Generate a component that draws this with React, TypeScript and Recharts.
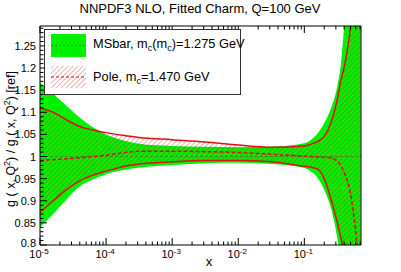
import React from 'react';
import { ComposedChart, Area, Line, XAxis, YAxis, ReferenceLine } from 'recharts';

// x samples (log spaced by hand) and ratios
const xValues = [
  1e-5, 1.585e-5, 2.512e-5, 3.981e-5, 6.31e-5, 1e-4, 1.778e-4, 3.162e-4, 1e-3, 3.162e-3,
  1e-2, 3.162e-2, 0.1, 0.1259, 0.1585, 0.1995, 0.2512, 0.3162, 0.3548, 0.3981,
  0.4467, 0.5012, 0.5623, 0.631, 0.711,
];
const msbarUpper = [
  1.167, 1.142, 1.115, 1.088, 1.066, 1.05, 1.037, 1.029, 1.024, 1.022,
  1.021, 1.022, 1.03, 1.038, 1.052, 1.075, 1.108, 1.16, 1.205, 1.29,
  1.4, 1.52, 1.65, 1.8, 2.0,
];
const msbarLower = [
  0.84, 0.87, 0.903, 0.932, 0.948, 0.96, 0.969, 0.975, 0.981, 0.985,
  0.986, 0.983, 0.974, 0.966, 0.952, 0.925, 0.885, 0.815, 0.76, 0.7,
  0.65, 0.6, 0.55, 0.5, 0.45,
];
const poleUpper = [
  1.11, 1.1, 1.083, 1.068, 1.06, 1.054, 1.048, 1.043, 1.038, 1.033,
  1.026, 1.021, 1.024, 1.028, 1.034, 1.045, 1.075, 1.13, 1.17, 1.2,
  1.24, 1.295, 1.4, 1.5, 1.6,
];
const poleLower = [
  0.874, 0.9, 0.925, 0.945, 0.958, 0.967, 0.977, 0.983, 0.988, 0.991,
  0.991, 0.988, 0.978, 0.976, 0.972, 0.95, 0.905, 0.85, 0.818, 0.785,
  0.75, 0.71, 0.67, 0.63, 0.58,
];
const poleCentral = [
  0.991, 0.993, 0.995, 0.997, 1.0, 1.003, 1.008, 1.012, 1.012, 1.011,
  1.009, 1.005, 1.001, 1.0, 0.999, 0.998, 0.997, 0.989, 0.98, 0.965,
  0.945, 0.915, 0.865, 0.8, 0.72,
];

const xMajorTicks = [1e-5, 1e-4, 1e-3, 1e-2, 1e-1];
const xMajorExps = ['-5', '-4', '-3', '-2', '-1'];
const xMinorMult = [2, 3, 4, 5, 6, 7, 8, 9];
const xMinorTicks = xMajorTicks
  .flatMap((d) => xMinorMult.map((m) => d * m))
  .filter((v) => v < 0.72);
const xTicks = [...xMajorTicks, ...xMinorTicks];

const yMajorTicks = [0.8, 0.85, 0.9, 0.95, 1, 1.05, 1.1, 1.15, 1.2, 1.25];
const yMajorLabels = ['0.8', '0.85', '0.9', '0.95', '1', '1.05', '1.1', '1.15', '1.2', '1.25'];
const yMinorTicks = Array.from({ length: 49 }, (_, i) => Math.round(81 + i) / 100).filter(
  (v) => Math.round(v * 100) % 5 !== 0
);
const yTicks = [...yMajorTicks, ...yMinorTicks];

const chartData = xValues.map((x, i) => ({
  x,
  msbar: [msbarLower[i], msbarUpper[i]],
  pole: [poleLower[i], poleUpper[i]],
  poleUp: poleUpper[i],
  poleLo: poleLower[i],
  poleMid: poleCentral[i],
}));

const FONT = 'Liberation Sans, Arial, Helvetica, sans-serif';
const GREEN = '#00f000';
const RED = '#e01010';

function BottomTick({ x, y, payload }: any) {
  const i = xMajorTicks.indexOf(payload.value);
  if (i < 0) return <line x1={x} x2={x} y1={y} y2={y - 3.5} stroke="#000" />;
  return (
    <g>
      <line x1={x} x2={x} y1={y} y2={y - 7} stroke="#000" />
      <text x={x - 1} y={y + 13} textAnchor="middle" fontSize={11} fontFamily={FONT} fill="#000">
        10
        <tspan dy={-4} fontSize={8}>
          {xMajorExps[i]}
        </tspan>
      </text>
    </g>
  );
}

function TopTick({ x, y, payload }: any) {
  const major = xMajorTicks.includes(payload.value);
  return <line x1={x} x2={x} y1={y} y2={y + (major ? 7 : 3.5)} stroke="#000" />;
}

function LeftTick({ x, y, payload }: any) {
  const i = yMajorTicks.indexOf(payload.value);
  if (i < 0) return <line x1={x} x2={x + 3.5} y1={y} y2={y} stroke="#000" />;
  // lowest label sits a touch higher so it clears the 10^-5 label
  const dy = i === 0 ? 2 : 4;
  return (
    <g>
      <line x1={x} x2={x + 7} y1={y} y2={y} stroke="#000" />
      <text x={x - 4} y={y + dy} textAnchor="end" fontSize={11} fontFamily={FONT} fill="#000">
        {yMajorLabels[i]}
      </text>
    </g>
  );
}

export default function App() {
  return (
    <div style={{ position: 'absolute', left: 0, top: 0, width: 401, height: 272, background: '#fff' }}>
      <svg width={0} height={0} style={{ position: 'absolute' }}>
        <defs>
          <pattern id="poleHatch" patternUnits="userSpaceOnUse" width={3.5} height={3.5} patternTransform="rotate(45)">
            <line x1={0} y1={0} x2={0} y2={3.5} stroke="#d42020" strokeWidth={1.3} strokeOpacity={0.5} />
          </pattern>
        </defs>
      </svg>
      <ComposedChart width={401} height={272} data={chartData} margin={{ top: 0, right: 0, bottom: 0, left: 0 }}>
        <XAxis
          xAxisId="x"
          dataKey="x"
          type="number"
          scale="log"
          domain={[1e-5, 0.72]}
          allowDataOverflow
          ticks={xTicks}
          interval={0}
          tick={<BottomTick />}
          tickLine={false}
          tickSize={0}
          tickMargin={0}
          height={27}
          axisLine={{ stroke: '#000' }}
        />
        <XAxis
          xAxisId="top"
          orientation="top"
          dataKey="x"
          type="number"
          scale="log"
          domain={[1e-5, 0.72]}
          allowDataOverflow
          ticks={xTicks}
          interval={0}
          tick={<TopTick />}
          tickLine={false}
          tickSize={0}
          tickMargin={0}
          height={26}
          axisLine={{ stroke: '#000' }}
        />
        <YAxis
          yAxisId="y"
          type="number"
          domain={[0.8, 1.295]}
          allowDataOverflow
          ticks={yTicks}
          interval={0}
          tick={<LeftTick />}
          tickLine={false}
          tickSize={0}
          tickMargin={0}
          width={40}
          axisLine={{ stroke: '#000' }}
        />
        <YAxis
          yAxisId="r"
          orientation="right"
          type="number"
          domain={[0.8, 1.295]}
          allowDataOverflow
          tick={false}
          tickLine={false}
          width={40}
          axisLine={{ stroke: '#000' }}
        />
        <Area
          xAxisId="x"
          yAxisId="y"
          type="monotone"
          dataKey="msbar"
          fill={GREEN}
          fillOpacity={1}
          stroke="none"
          isAnimationActive={false}
        />
        <Area
          xAxisId="x"
          yAxisId="y"
          type="monotone"
          dataKey="pole"
          fill="url(#poleHatch)"
          fillOpacity={1}
          stroke="none"
          isAnimationActive={false}
        />
        <ReferenceLine xAxisId="x" yAxisId="y" y={1} stroke="#3b8a2a" strokeDasharray="3 2" />
        <Line xAxisId="x" yAxisId="y" type="monotone" dataKey="poleUp" stroke={RED} strokeWidth={1.5} dot={false} activeDot={false} isAnimationActive={false} />
        <Line xAxisId="x" yAxisId="y" type="monotone" dataKey="poleLo" stroke={RED} strokeWidth={1.5} dot={false} activeDot={false} isAnimationActive={false} />
        <Line xAxisId="x" yAxisId="y" type="monotone" dataKey="poleMid" stroke={RED} strokeWidth={1.5} strokeDasharray="4 2" dot={false} activeDot={false} isAnimationActive={false} />
      </ComposedChart>
      <svg width={401} height={272} style={{ position: 'absolute', left: 0, top: 0, pointerEvents: 'none' }} fontFamily={FONT}>
        <text x={200} y={13} textAnchor="middle" fontSize={13} fill="#000">
          NNPDF3 NLO, Fitted Charm, Q=100 GeV
        </text>
        <rect x={44.5} y={29.5} width={196} height={65} fill="#fff" stroke="#333" />
        <rect x={51} y={34} width={35} height={23} fill={GREEN} />
        <line x1={51} x2={86} y1={45.5} y2={45.5} stroke="#3b8a2a" strokeDasharray="2 2" />
        <text x={93} y={48} fontSize={12.8} fill="#000">
          MSbar, m<tspan fontSize={9} dy={3}>c</tspan>
          <tspan dy={-3}>(m</tspan>
          <tspan fontSize={9} dy={3}>c</tspan>
          <tspan dy={-3}>)=1.275 GeV</tspan>
        </text>
        <rect x={51} y={66} width={35} height={22} fill="url(#poleHatch)" />
        <line x1={51} x2={86} y1={77} y2={77} stroke={RED} strokeWidth={1.2} strokeDasharray="3 2" />
        <text x={93} y={81} fontSize={12.8} fill="#000">
          Pole, m<tspan fontSize={9} dy={3}>c</tspan>
          <tspan dy={-3}>=1.470 GeV</tspan>
        </text>
        <text transform="rotate(-90)" x={-139} y={15} textAnchor="middle" fontSize={12.5} fill="#000">
          g ( x, Q<tspan fontSize={9} dy={-5}>2</tspan>
          <tspan dy={5}>) / g ( x, Q</tspan>
          <tspan fontSize={9} dy={-5}>2</tspan>
          <tspan dy={5}>) [ref]</tspan>
        </text>
        <text x={209} y={266} textAnchor="middle" fontSize={13} fill="#000">
          x
        </text>
      </svg>
    </div>
  );
}
